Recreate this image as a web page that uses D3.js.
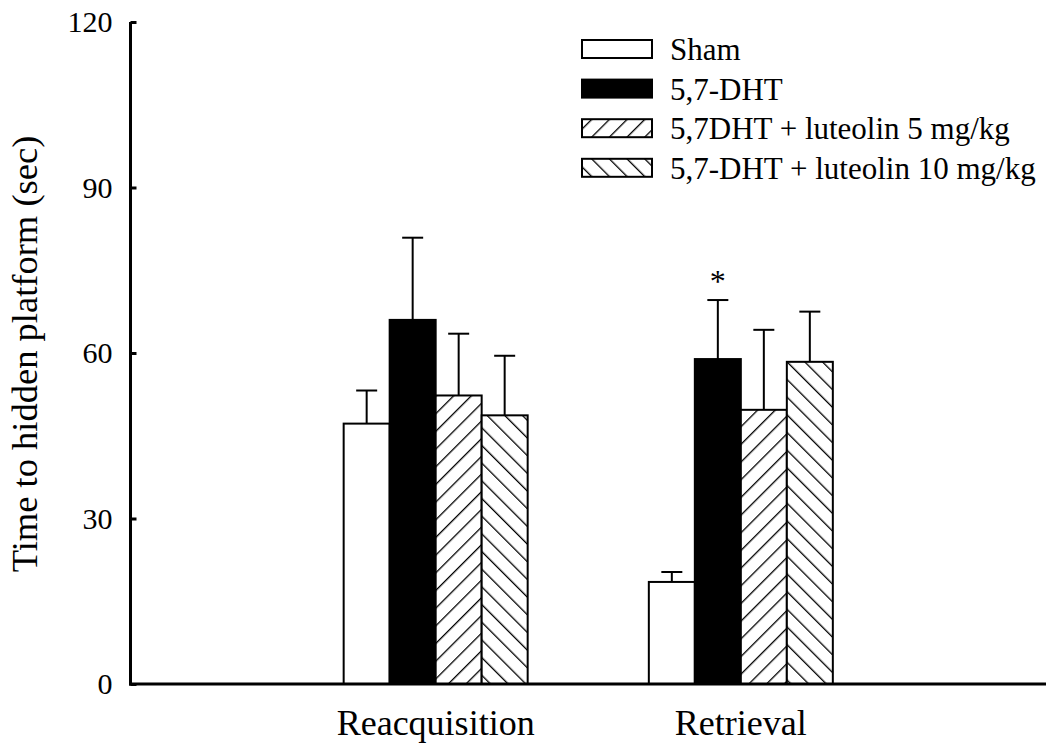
<!DOCTYPE html>
<html>
<head>
<meta charset="utf-8">
<script src="https://cdn.jsdelivr.net/npm/d3@7"></script>
<style>
  html, body { margin: 0; padding: 0; background: #fff; }
  svg text { font-family: 'Liberation Serif', 'Times New Roman', Times, serif !important; fill: #000; }
</style>
</head>
<body>
<svg id="chart" width="1046" height="747"></svg>
<script>
const categories = ["Reacquisition", "Retrieval"];
const seriesNames = ["Sham", "5,7-DHT", "5,7DHT + luteolin 5 mg/kg", "5,7-DHT + luteolin 10 mg/kg"];
const seriesFill = ["white", "black", "url(#hatch-fwd)", "url(#hatch-back)"];
// means per series, one value per category
const means = [
  [47.2, 18.5],
  [66.0, 58.9],
  [52.3, 49.7],
  [48.7, 58.4]
];
// upper error (SEM) per series
const errors = [
  [6.0, 1.8],
  [14.9, 10.7],
  [11.2, 14.5],
  [10.8, 9.1]
];
const yTicks = [0, 30, 60, 90, 120];
const significant = [[1, 1]]; // [series, category] marked with *

const width = 1046, height = 747;
const svg = d3.select("#chart");

const y = d3.scaleLinear().domain([0, 120]).range([684, 22]);
// x positions: axis spans 0..3, categories sit at 1 and 2
const x = d3.scaleLinear().domain([0, 3]).range([130.5, width]);
const groupW = 184;
const inner = d3.scaleBand().domain(d3.range(seriesNames.length)).range([-groupW / 2, groupW / 2]).padding(0);

// hatch patterns
const defs = svg.append("defs");
function hatch(id, angle) {
  const p = defs.append("pattern")
    .attr("id", id)
    .attr("patternUnits", "userSpaceOnUse")
    .attr("width", 12.5).attr("height", 12.5)
    .attr("patternTransform", `rotate(${angle})`);
  p.append("rect").attr("width", 12.5).attr("height", 12.5).attr("fill", "white");
  p.append("line").attr("x1", 0).attr("y1", 0).attr("x2", 0).attr("y2", 12.5)
    .attr("stroke", "black").attr("stroke-width", 2.6);
}
hatch("hatch-fwd", 45);
hatch("hatch-back", -45);

// bars
const barData = [];
means.forEach((row, s) => row.forEach((v, c) => barData.push({ s, c, v, e: errors[s][c] })));

const bars = svg.append("g");
bars.selectAll("rect")
  .data(barData)
  .join("rect")
  .attr("x", d => x(d.c + 1) + inner(d.s))
  .attr("y", d => y(d.v))
  .attr("width", inner.bandwidth())
  .attr("height", d => y(0) - y(d.v))
  .attr("fill", d => seriesFill[d.s])
  .attr("stroke", "black")
  .attr("stroke-width", 2);

// error bars (upper only)
const err = svg.append("g").attr("stroke", "black").attr("stroke-width", 2);
err.selectAll("line.v")
  .data(barData)
  .join("line")
  .attr("class", "v")
  .attr("x1", d => x(d.c + 1) + inner(d.s) + inner.bandwidth() / 2)
  .attr("x2", d => x(d.c + 1) + inner(d.s) + inner.bandwidth() / 2)
  .attr("y1", d => y(d.v))
  .attr("y2", d => y(d.v + d.e));
err.selectAll("line.cap")
  .data(barData)
  .join("line")
  .attr("class", "cap")
  .attr("x1", d => x(d.c + 1) + inner(d.s) + inner.bandwidth() / 2 - 10.5)
  .attr("x2", d => x(d.c + 1) + inner(d.s) + inner.bandwidth() / 2 + 10.5)
  .attr("y1", d => y(d.v + d.e))
  .attr("y2", d => y(d.v + d.e));

// significance marks
svg.append("g").selectAll("text")
  .data(significant)
  .join("text")
  .attr("x", d => x(d[1] + 1) + inner(d[0]) + inner.bandwidth() / 2)
  .attr("y", d => y(means[d[0]][d[1]] + errors[d[0]][d[1]]) - 8)
  .attr("text-anchor", "middle")
  .attr("font-size", 32)
  .text("*");

// axes
const yAxis = svg.append("g")
  .attr("transform", `translate(${x(0)},0)`)
  .call(d3.axisRight(y).tickValues(yTicks).tickSize(6).tickFormat(d3.format("d")));
yAxis.select(".domain").remove();
yAxis.selectAll(".tick line").attr("stroke-width", 3);
yAxis.selectAll(".tick text")
  .attr("x", -18)
  .attr("dy", "0.32em")
  .attr("text-anchor", "end")
  .attr("font-size", 30);

svg.append("line")
  .attr("x1", x(0)).attr("x2", x(0))
  .attr("y1", y(120)).attr("y2", y(0) + 1.5)
  .attr("stroke", "black").attr("stroke-width", 3);
svg.append("line")
  .attr("x1", x(0) - 1.5).attr("x2", x(3))
  .attr("y1", y(0)).attr("y2", y(0))
  .attr("stroke", "black").attr("stroke-width", 3);

// category labels
svg.append("g").selectAll("text")
  .data(categories)
  .join("text")
  .attr("x", (d, i) => x(i + 1))
  .attr("y", 735)
  .attr("text-anchor", "middle")
  .attr("font-size", 36)
  .text(d => d);

// y label
svg.append("text")
  .attr("transform", `translate(37,${(y(0) + y(120)) / 2 + 1}) rotate(-90)`)
  .attr("text-anchor", "middle")
  .attr("font-size", 36.5)
  .text("Time to hidden platform (sec)");

// legend
const legend = svg.append("g").attr("transform", "translate(582,49)");
const item = legend.selectAll("g")
  .data(seriesNames)
  .join("g")
  .attr("transform", (d, i) => `translate(0,${i * 39.6})`);
item.append("rect")
  .attr("x", 0).attr("y", -9)
  .attr("width", 70).attr("height", 18)
  .attr("fill", (d, i) => seriesFill[i])
  .attr("stroke", "black")
  .attr("stroke-width", 2);
item.append("text")
  .attr("x", 88)
  .attr("y", 11)
  .attr("font-size", 31)
  .text(d => d);
</script>
</body>
</html>
